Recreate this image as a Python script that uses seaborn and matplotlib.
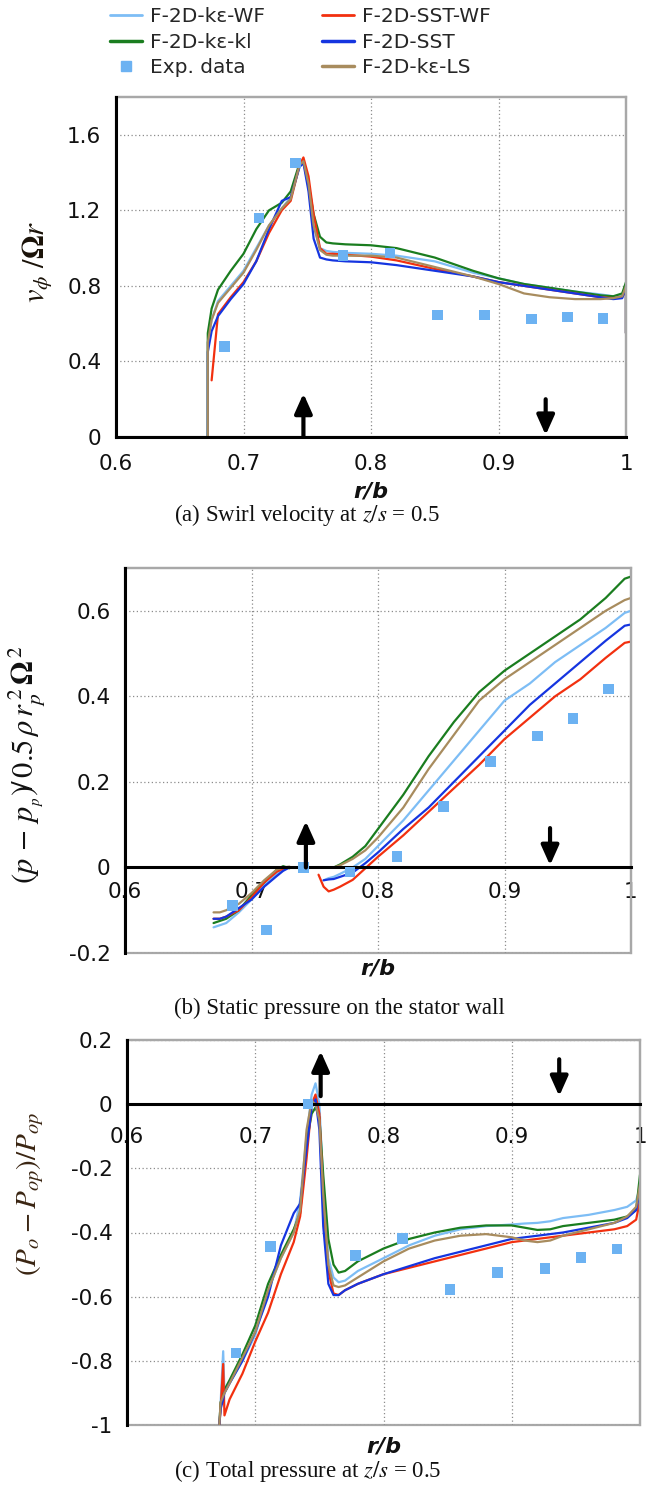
import numpy as np
import pandas as pd
import matplotlib
matplotlib.use('Agg')
import matplotlib.pyplot as plt
from matplotlib.lines import Line2D
from matplotlib.patches import Rectangle
from matplotlib.ticker import MultipleLocator, FuncFormatter
import seaborn as sns

# ---------------- data ----------------
models = ['F-2D-kε-WF', 'F-2D-kε-kl', 'F-2D-SST-WF', 'F-2D-SST', 'F-2D-kε-LS']
palette = {'F-2D-kε-WF': '#7dbdf5', 'F-2D-kε-kl': '#1a7d1f', 'F-2D-SST-WF': '#f2300f',
           'F-2D-SST': '#1535e0', 'F-2D-kε-LS': '#a88c5e'}
exp_color = '#6cb2f2'

# experiments (same radii in all three plots)
exp_r = [0.685, 0.712, 0.741, 0.778, 0.815, 0.852, 0.889, 0.926, 0.954, 0.982]
exp_swirl = [0.48, 1.16, 1.45, 0.96, 0.975, 0.647, 0.647, 0.625, 0.635, 0.628]
exp_static = [-0.089, -0.146, 0.0, -0.011, 0.025, 0.143, 0.247, 0.307, 0.348, 0.417]
exp_total = [-0.775, -0.443, 0.0, -0.472, -0.418, -0.578, -0.525, -0.512, -0.478, -0.452]

# (a) swirl velocity
r_a = [0.672, 0.672, 0.675, 0.68, 0.69, 0.70, 0.71, 0.72, 0.73, 0.737, 0.744, 0.747, 0.751,
       0.755, 0.76, 0.765, 0.77, 0.78, 0.80, 0.82, 0.85, 0.88, 0.90, 0.92, 0.94, 0.96, 0.98,
       0.99, 0.997, 1.0, 1.0]
swirl_ke_wf = [0, 0.50, 0.62, 0.72, 0.80, 0.88, 1.00, 1.12, 1.21, 1.27, 1.44, 1.46, 1.32, 1.12,
               1.00, 0.985, 0.98, 0.975, 0.97, 0.96, 0.93, 0.87, 0.84, 0.81, 0.79, 0.77, 0.755,
               0.745, 0.75, 0.79, 0.55]
swirl_ke_kl = [0, 0.55, 0.68, 0.78, 0.88, 0.97, 1.10, 1.20, 1.24, 1.30, 1.45, 1.46, 1.34, 1.18,
               1.06, 1.03, 1.025, 1.02, 1.015, 1.00, 0.95, 0.88, 0.84, 0.81, 0.79, 0.77, 0.75,
               0.745, 0.76, 0.82, 0.55]
swirl_sst_wf = [np.nan, np.nan, 0.30, 0.65, 0.74, 0.82, 0.93, 1.08, 1.20, 1.25, 1.44, 1.48, 1.38,
                1.18, 1.00, 0.97, 0.97, 0.965, 0.955, 0.935, 0.89, 0.85, 0.82, 0.80, 0.78, 0.76,
                0.74, 0.735, 0.74, 0.78, 0.55]
swirl_sst = [0, 0.45, 0.56, 0.64, 0.73, 0.81, 0.93, 1.10, 1.25, 1.27, 1.43, 1.45, 1.30, 1.05,
             0.95, 0.94, 0.935, 0.93, 0.925, 0.91, 0.88, 0.85, 0.82, 0.80, 0.78, 0.76, 0.74,
             0.73, 0.735, 0.79, 0.55]
swirl_ke_ls = [0, 0.50, 0.62, 0.71, 0.79, 0.87, 0.99, 1.12, 1.21, 1.26, 1.44, 1.46, 1.34, 1.12,
               0.99, 0.965, 0.96, 0.96, 0.96, 0.95, 0.90, 0.85, 0.81, 0.76, 0.74, 0.73, 0.73,
               0.735, 0.745, 0.80, 0.55]

# (b) static pressure, two pieces (rotor side / stator side)
r_b1 = [0.670, 0.675, 0.68, 0.69, 0.70, 0.71, 0.72, 0.725, 0.73]
static1_ke_wf = [-0.14, -0.135, -0.13, -0.105, -0.075, -0.04, -0.015, -0.005, 0.0]
static1_ke_kl = [-0.13, -0.125, -0.12, -0.10, -0.065, -0.035, -0.005, 0.003, -0.002]
static1_sst_wf = [-0.12, -0.12, -0.115, -0.10, -0.07, -0.035, -0.01, -0.003, 0.0]
static1_sst = [-0.12, -0.12, -0.115, -0.095, -0.075, -0.045, -0.02, -0.008, 0.0]
static1_ke_ls = [-0.105, -0.105, -0.10, -0.085, -0.06, -0.03, -0.005, 0.0, 0.002]

r_b2 = [0.753, 0.757, 0.761, 0.765, 0.77, 0.78, 0.79, 0.80, 0.82, 0.84, 0.86, 0.88, 0.90,
        0.92, 0.94, 0.96, 0.98, 0.995, 1.0]
static2_ke_wf = [np.nan, -0.03, -0.025, -0.022, -0.015, 0.0, 0.02, 0.05, 0.11, 0.18, 0.25,
                 0.32, 0.39, 0.43, 0.48, 0.52, 0.56, 0.595, 0.60]
static2_ke_kl = [np.nan, np.nan, np.nan, 0.0, 0.007, 0.025, 0.05, 0.09, 0.17, 0.26, 0.34,
                 0.41, 0.46, 0.50, 0.54, 0.58, 0.63, 0.675, 0.68]
static2_sst_wf = [-0.017, -0.045, -0.056, -0.052, -0.045, -0.029, -0.002, 0.025, 0.075, 0.13,
                  0.185, 0.24, 0.30, 0.35, 0.40, 0.44, 0.49, 0.525, 0.528]
static2_sst = [np.nan, -0.03, -0.028, -0.027, -0.022, -0.012, 0.01, 0.035, 0.09, 0.14, 0.20,
               0.26, 0.32, 0.38, 0.43, 0.48, 0.53, 0.565, 0.568]
static2_ke_ls = [np.nan, np.nan, np.nan, 0.0, 0.005, 0.02, 0.04, 0.07, 0.14, 0.23, 0.31, 0.39,
                 0.44, 0.48, 0.52, 0.56, 0.60, 0.625, 0.63]

# (c) total pressure
r_c = [0.672, 0.673, 0.675, 0.676, 0.68, 0.69, 0.70, 0.71, 0.72, 0.73, 0.735, 0.74, 0.744,
       0.747, 0.750, 0.753, 0.757, 0.761, 0.765, 0.77, 0.78, 0.80, 0.82, 0.84, 0.86, 0.88,
       0.90, 0.91, 0.92, 0.93, 0.94, 0.96, 0.98, 0.99, 0.997, 1.0, 1.0]
total_ke_wf = [-1.0, -0.93, -0.77, -0.90, -0.87, -0.80, -0.72, -0.58, -0.48, -0.40, -0.30,
               -0.10, 0.03, 0.065, 0.0, -0.25, -0.48, -0.54, -0.555, -0.55, -0.52, -0.48,
               -0.44, -0.41, -0.39, -0.38, -0.375, -0.372, -0.37, -0.365, -0.355, -0.345,
               -0.33, -0.32, -0.30, -0.26, -0.26]
total_ke_kl = [-1.0, -0.93, -0.90, -0.89, -0.86, -0.78, -0.69, -0.56, -0.47, -0.39, -0.34,
               -0.12, -0.03, -0.01, -0.04, -0.22, -0.42, -0.50, -0.525, -0.52, -0.49, -0.45,
               -0.42, -0.40, -0.385, -0.378, -0.378, -0.385, -0.392, -0.39, -0.38, -0.37,
               -0.36, -0.35, -0.33, -0.22, -0.22]
total_sst_wf = [-1.0, -0.95, -0.81, -0.97, -0.92, -0.84, -0.74, -0.65, -0.53, -0.43, -0.35,
                -0.17, 0.0, 0.03, -0.03, -0.30, -0.52, -0.59, -0.595, -0.58, -0.56, -0.53,
                -0.51, -0.49, -0.47, -0.45, -0.43, -0.425, -0.42, -0.415, -0.41, -0.40,
                -0.39, -0.38, -0.36, -0.30, -0.30]
total_sst = [-1.0, -0.95, -0.92, -0.90, -0.87, -0.80, -0.71, -0.60, -0.44, -0.34, -0.31,
             -0.14, -0.01, 0.015, -0.08, -0.38, -0.56, -0.595, -0.595, -0.58, -0.56, -0.53,
             -0.505, -0.48, -0.46, -0.44, -0.42, -0.415, -0.41, -0.405, -0.40, -0.385, -0.37,
             -0.355, -0.33, -0.27, -0.27]
total_ke_ls = [-1.0, -0.93, -0.91, -0.90, -0.87, -0.79, -0.71, -0.58, -0.48, -0.40, -0.33,
               -0.08, 0.01, 0.0, -0.05, -0.28, -0.50, -0.565, -0.57, -0.565, -0.54, -0.49,
               -0.45, -0.425, -0.41, -0.405, -0.415, -0.425, -0.43, -0.425, -0.41, -0.39,
               -0.37, -0.35, -0.32, -0.25, -0.37]

# arrows: x, tail, head
arrows_a = [(0.747, 0.0, 0.23), (0.937, 0.20, 0.01)]
arrows_b = [(0.743, 0.0, 0.108), (0.936, 0.092, 0.005)]
arrows_c = [(0.751, 0.025, 0.165), (0.937, 0.14, 0.025)]


def long_df(pieces):
    rows = []
    for seg, (r, series) in enumerate(pieces):
        for m, vals in zip(models, series):
            for x, v in zip(r, vals):
                rows.append((m, seg, x, v))
    return pd.DataFrame(rows, columns=['model', 'seg', 'r', 'val']).dropna()


df_a = long_df([(r_a, [swirl_ke_wf, swirl_ke_kl, swirl_sst_wf, swirl_sst, swirl_ke_ls])])
df_b = long_df([(r_b1, [static1_ke_wf, static1_ke_kl, static1_sst_wf, static1_sst, static1_ke_ls]),
                (r_b2, [static2_ke_wf, static2_ke_kl, static2_sst_wf, static2_sst, static2_ke_ls])])
df_c = long_df([(r_c, [total_ke_wf, total_ke_kl, total_sst_wf, total_sst, total_ke_ls])])

# ---------------- style ----------------
sns.set_style('white')
plt.rcParams['font.family'] = ['DejaVu Sans']
plt.rcParams['mathtext.fontset'] = 'stix'
plt.rcParams['axes.unicode_minus'] = False

W, H = 652, 1489
fig = plt.figure(figsize=(W / 100, H / 100), dpi=100)


def box(l, r, t, b):
    return [l / W, 1 - b / H, (r - l) / W, (b - t) / H]


fmt = FuncFormatter(lambda v, p: f'{round(v, 3) + 0.0:g}')


def draw(rect, df, exp_y, ylim, ymaj, ymin, arrows, xpad):
    ax = fig.add_axes(rect)
    ax.set_axisbelow(True)
    ax.add_patch(Rectangle((0, 0), 1, 1, transform=ax.transAxes, fill=False,
                           ec='#a8a8a8', lw=1.6, zorder=0.5, clip_on=False))
    sns.lineplot(data=df, x='r', y='val', hue='model', units='seg', estimator=None,
                 sort=False, hue_order=models, palette=palette, linewidth=1.6,
                 legend=False, ax=ax)
    sns.scatterplot(x=exp_r, y=exp_y, marker='s', s=58, color=exp_color,
                    edgecolor='none', ax=ax, zorder=4)
    for x, y0, y1 in arrows:
        ax.annotate('', xy=(x, y1), xytext=(x, y0),
                    arrowprops=dict(arrowstyle='-|>,head_length=0.85,head_width=0.38',
                                    lw=3, color='black', shrinkA=0, shrinkB=0,
                                    mutation_scale=14), zorder=5)
    ax.set_xlim(0.6, 1.0)
    ax.set_ylim(*ylim)
    ax.xaxis.set_major_locator(MultipleLocator(0.1))
    ax.xaxis.set_minor_locator(MultipleLocator(0.02))
    ax.yaxis.set_major_locator(MultipleLocator(ymaj))
    ax.yaxis.set_minor_locator(MultipleLocator(ymin))
    ax.xaxis.set_major_formatter(fmt)
    ax.yaxis.set_major_formatter(fmt)
    ax.spines['bottom'].set_position(('data', 0))
    for s in ['bottom', 'left']:
        ax.spines[s].set_color('black')
        ax.spines[s].set_linewidth(2.2)
        ax.spines[s].set_zorder(3)
    for s in ['top', 'right']:
        ax.spines[s].set_color('#a8a8a8')
        ax.spines[s].set_linewidth(1.6)
    ax.grid(which='major', ls=(0, (1, 2)), color='#8c8c8c', lw=0.9)
    ax.tick_params(which='major', direction='inout', length=9, width=2, color='black',
                   labelsize=15.5, labelcolor='#111111')
    ax.tick_params(which='minor', direction='in', length=5, width=1.6, color='black')
    ax.tick_params(axis='y', which='major', pad=6)
    ax.tick_params(axis='x', which='major', pad=xpad)
    ax.set_xlabel('r/b', fontsize=16, fontweight='bold', fontstyle='italic', color='#111111')
    ax.set_ylabel('')
    return ax


ax_a = draw(box(116, 626, 97, 437), df_a, exp_swirl, (0, 1.8), 0.4, 0.08, arrows_a, 8)
ax_a.xaxis.set_label_coords(0.5, -0.13)
ax_a.set_ylabel(r'$v_{\phi}\ /\mathbf{\Omega} r$', fontsize=22, color='#1a1208')
ax_a.yaxis.set_label_coords(-0.12, 0.515)

ax_b = draw(box(125, 631, 568, 953), df_b, exp_static, (-0.2, 0.7), 0.2, 0.04, arrows_b, 6)
ax_b.xaxis.set_label_coords(0.5, -0.015)
ax_b.set_ylabel(r'$\left(p\,-\,p_{_p}\right)\!/\,0.5\,\rho\, r_p^{\,2}\,\mathbf{\Omega}^{\,2}$',
                fontsize=22, color='#111111')
ax_b.yaxis.set_label_coords(-0.152, 0.49)

ax_c = draw(box(127, 640, 1040, 1425), df_c, exp_total, (-1.0, 0.2), 0.2, 0.04, arrows_c, 12)
ax_c.xaxis.set_label_coords(0.5, -0.03)
ax_c.set_ylabel(r'$\left(P_o-P_{op}\right)/P_{op}$', fontsize=21, color='#3a2512')
ax_c.yaxis.set_label_coords(-0.158, 0.6)

# captions
cap_font = dict(family='Liberation Serif', fontsize=16.5, va='center', ha='left', color='#111111')
fig.text(174 / W, 1 - 515 / H, r'(a) Swirl velocity at $z/s$ = 0.5', **cap_font)
fig.text(174 / W, 1 - 1008 / H, '(b) Static pressure on the stator wall', **cap_font)
fig.text(174 / W, 1 - 1471 / H, r'(c) Total pressure at $z/s$ = 0.5', **cap_font)

# legend
handles = [Line2D([], [], color=palette[models[0]], lw=2),
           Line2D([], [], color=palette[models[1]], lw=2.5),
           Line2D([], [], color=exp_color, marker='s', ls='none', markersize=7),
           Line2D([], [], color=palette[models[2]], lw=2),
           Line2D([], [], color=palette[models[3]], lw=2.5),
           Line2D([], [], color=palette[models[4]], lw=2.5)]
labels = [models[0], models[1], 'Exp. data', models[2], models[3], models[4]]
fig.legend(handles, labels, ncol=2, loc='upper left', bbox_to_anchor=(100 / W, 1 + 3 / H),
           frameon=False, fontsize=14.5, handlelength=1.6, handletextpad=0.4,
           columnspacing=2.8, labelspacing=0.33, borderpad=0)

fig.savefig('out.png', dpi=100)
